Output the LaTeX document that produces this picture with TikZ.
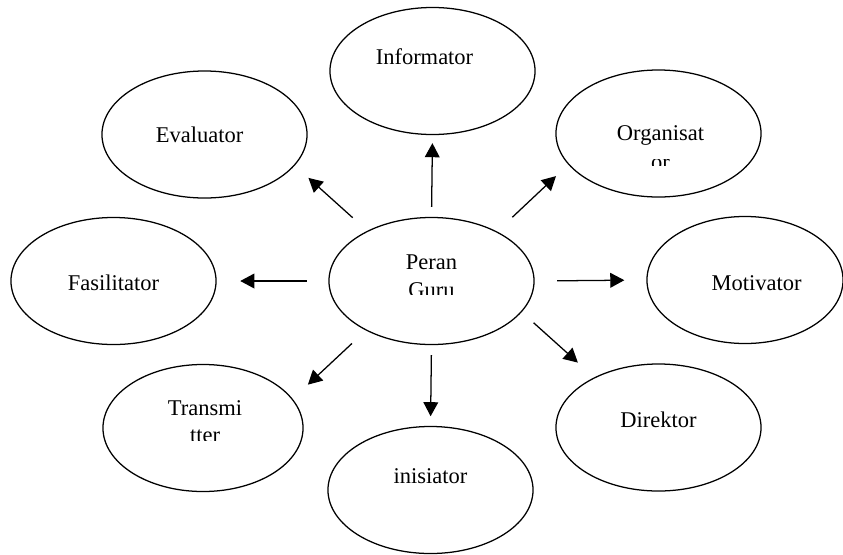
\documentclass[tikz,border=0pt]{standalone}
\usepackage{fontspec}
\setmainfont{Liberation Serif}
\usepackage{trimclip}
\usetikzlibrary{arrows.meta, shapes.geometric}

\tikzset{
  elips/.style={draw, ellipse, line width=0.9pt, minimum width=5.125cm, minimum height=3.175cm, inner sep=0pt},
  teks/.style={font=\fontsize{16}{17.8}\selectfont, align=center, inner sep=0pt},
  panah/.style={-{Triangle[length=10pt, width=10.5pt]}, line width=0.9pt},
}

\begin{document}
\begin{tikzpicture}[x=0.025cm, y=-0.025cm]
    \useasboundingbox (0,0) rectangle (843,554);

    % Pusat
    \node[elips, label={[teks, yshift=0.15cm]center:Peran\\\clipbox{0pt 2pt 0pt 0pt}{Guru}}] (guru) at (431.5,281) {};

    % Peran-peran guru
    \node[elips, label={[teks, xshift=-0.2cm, yshift=0.355cm]center:Informator}] (informator) at (432.5,71) {};
    \node[elips, label={[teks, xshift=-0.125cm]center:Evaluator}] (evaluator) at (204.5,134.5) {};
    \node[elips, label={[teks, xshift=0.05cm, yshift=-0.31cm]center:Organisat\\\clipbox{0pt 3pt 0pt 0pt}{or}}] (organisator) at (658.5,133.5) {};
    \node[elips, label={[teks, yshift=-0.05cm]center:Fasilitator}] (fasilitator) at (113.5,281) {};
    \node[elips, minimum width=4.9cm, label={[teks, xshift=0.29cm, yshift=-0.075cm]center:Motivator}] (motivator) at (745,280) {};
    \node[elips, minimum width=5cm, label={[teks, xshift=0.05cm, yshift=0.19cm]center:Transmi\\\clipbox{0pt 1.5pt 0pt 0pt}{tter}}] (transmitter) at (203,428) {};
    \node[elips, label={[teks, yshift=0.19cm]center:Direktor}] (direktor) at (658.5,427.5) {};
    \node[elips, label={[teks, yshift=0.34cm]center:inisiator}] (inisiator) at (430.5,490) {};

    % Panah
    \draw[panah, shorten <=0.25cm, shorten >=0.2cm] (guru.north) -- (informator.south);
    \draw[panah, shorten <=0.49cm, shorten >=0.46cm] (guru.142) -- (evaluator.341);
    \draw[panah, shorten <=0.52cm, shorten >=0.42cm] (guru.37) -- (organisator.199);
    \draw[panah, shorten <=0.54cm, shorten >=0.59cm] (guru.west) -- (fasilitator.east);
    \draw[panah, shorten <=0.56cm, shorten >=0.55cm] (guru.east) -- (motivator.west);
    \draw[panah, shorten <=0.475cm, shorten >=0.52cm] (guru.217.5) -- (transmitter.18.1);
    \draw[panah, shorten <=0.25cm, shorten >=0.24cm] (guru.south) -- (inisiator.north);
    \draw[panah, shorten <=0.4cm, shorten >=0.55cm] (guru.341.6) -- (direktor.142.6);
\end{tikzpicture}
\end{document}
